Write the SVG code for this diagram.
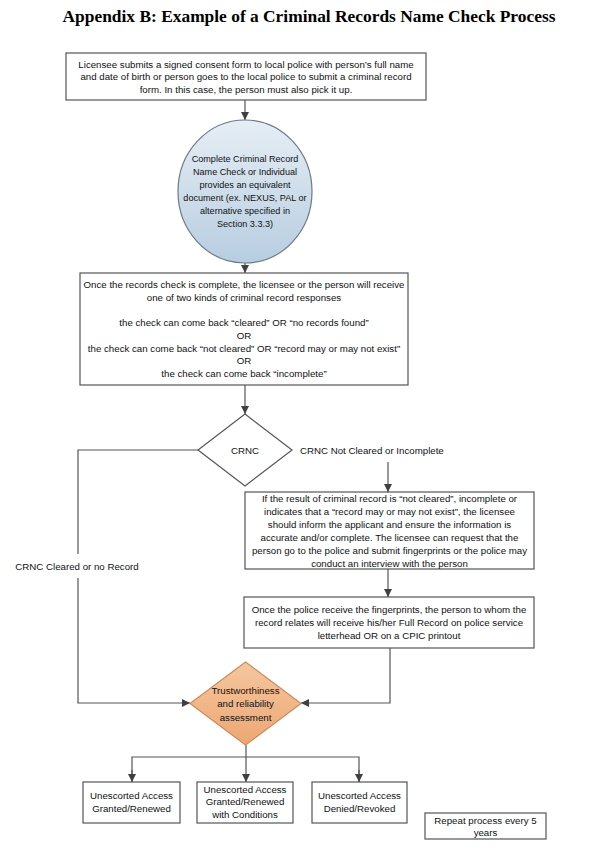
<svg xmlns="http://www.w3.org/2000/svg" width="613" height="867" viewBox="0 0 613 867">
<defs>
<linearGradient id="gBlue" x1="0" y1="0" x2="0" y2="1">
<stop offset="0" stop-color="#e6eef5"/>
<stop offset="1" stop-color="#b7cde0"/>
</linearGradient>
<linearGradient id="gOrange" x1="0" y1="0" x2="0" y2="1">
<stop offset="0" stop-color="#f5c7a0"/>
<stop offset="1" stop-color="#eda772"/>
</linearGradient>
<marker id="ah" viewBox="0 0 10 10" refX="10" refY="5" markerWidth="8" markerHeight="8" markerUnits="userSpaceOnUse" orient="auto">
<path d="M0,0 L10,5 L0,10 z" fill="#404040"/>
</marker>
<style>
.box{fill:#ffffff;stroke:#555555;stroke-width:1.2}
.t{font-family:"Liberation Sans",Arial,sans-serif;font-size:9.7px;fill:#111111;text-anchor:middle}
.tc{font-family:"Liberation Sans",Arial,sans-serif;font-size:9.1px;fill:#111111;text-anchor:middle}
.l{font-family:"Liberation Sans",Arial,sans-serif;font-size:9.7px;fill:#111111}
.c{fill:none;stroke:#555555;stroke-width:1.2}
.title{font-family:"Liberation Serif","Times New Roman",serif;font-size:17.4px;font-weight:bold;fill:#000000;text-anchor:middle}
</style>
</defs>
<rect width="613" height="867" fill="#ffffff"/>
<text class="title" x="309" y="22">Appendix B: Example of a Criminal Records Name Check Process</text>

<g id="connectors">
<line class="c" x1="245" y1="100" x2="245" y2="120" marker-end="url(#ah)"/>
<line class="c" x1="245" y1="263" x2="245" y2="273" marker-end="url(#ah)"/>
<line class="c" x1="245" y1="385" x2="245" y2="414" marker-end="url(#ah)"/>
<polyline class="c" points="198,450 78,450 78,554"/>
<polyline class="c" points="78,578 78,703 190,703" marker-end="url(#ah)"/>
<line class="c" x1="388" y1="462" x2="388" y2="492" marker-end="url(#ah)"/>
<line class="c" x1="388" y1="569" x2="388" y2="597" marker-end="url(#ah)"/>
<polyline class="c" points="390,648 390,703 301,703" marker-end="url(#ah)"/>
<line class="c" x1="246" y1="745" x2="246" y2="782" marker-end="url(#ah)"/>
<polyline class="c" points="132,782 132,757 359,757 359,782"/>
<line class="c" x1="132" y1="770" x2="132" y2="782" marker-end="url(#ah)"/>
<line class="c" x1="359" y1="770" x2="359" y2="782" marker-end="url(#ah)"/>
<text class="l" x="300" y="453.5">CRNC Not Cleared or Incomplete</text>
<text class="t" x="77" y="569.5">CRNC Cleared or no Record</text>
</g>

<g id="n1">
<rect class="box" x="66" y="53" width="360" height="47"/>
<text class="t" x="246" y="67.5">Licensee submits a signed consent form to local police with person’s full name</text>
<text class="t" x="246" y="80">and date of birth or person goes to the local police to submit a criminal record</text>
<text class="t" x="246" y="92.5">form. In this case, the person must also pick it up.</text>
</g>

<g id="n2">
<ellipse cx="245" cy="191.5" rx="67" ry="71.5" fill="url(#gBlue)" stroke="#6a7a88" stroke-width="1.2"/>
<text class="tc" x="245" y="162">Complete Criminal Record</text>
<text class="tc" x="245" y="175">Name Check or Individual</text>
<text class="tc" x="245" y="188">provides an equivalent</text>
<text class="tc" x="245" y="201">document (ex. NEXUS, PAL or</text>
<text class="tc" x="245" y="214">alternative specified in</text>
<text class="tc" x="245" y="227">Section 3.3.3)</text>
</g>

<g id="n3">
<rect class="box" x="80" y="273" width="328" height="112"/>
<text class="t" x="244" y="288">Once the records check is complete, the licensee or the person will receive</text>
<text class="t" x="244" y="300.7">one of two kinds of criminal record responses</text>
<text class="t" x="244" y="326.1">the check can come back “cleared” OR “no records found”</text>
<text class="t" x="244" y="338.8">OR</text>
<text class="t" x="244" y="351.5">the check can come back “not cleared” OR “record may or may not exist”</text>
<text class="t" x="244" y="364.2">OR</text>
<text class="t" x="244" y="376.9">the check can come back “incomplete”</text>
</g>

<g id="n4">
<polygon points="245,414 292,450 245,486 198,450" fill="#ffffff" stroke="#555555" stroke-width="1.2"/>
<text class="t" x="245" y="453.5">CRNC</text>
</g>

<g id="n5">
<rect class="box" x="245" y="492" width="289" height="77"/>
<text class="t" x="389.5" y="501.5">If the result of criminal record is “not cleared”, incomplete or</text>
<text class="t" x="389.5" y="514.5">indicates that a “record may or may not exist”, the licensee</text>
<text class="t" x="389.5" y="527.5">should inform the applicant and ensure the information is</text>
<text class="t" x="389.5" y="540.5">accurate and/or complete. The licensee can request that the</text>
<text class="t" x="389.5" y="553.5">person go to the police and submit fingerprints or the police may</text>
<text class="t" x="389.5" y="566.5">conduct an interview with the person</text>
</g>

<g id="n6">
<rect class="box" x="244" y="597" width="290" height="51"/>
<text class="t" x="389" y="613">Once the police receive the fingerprints, the person to whom the</text>
<text class="t" x="389" y="626">record relates will receive his/her Full Record on police service</text>
<text class="t" x="389" y="639">letterhead OR on a CPIC printout</text>
</g>

<g id="n7">
<polygon points="245.5,662 301,703.5 245.5,745 190,703.5" fill="url(#gOrange)" stroke="#c98c60" stroke-width="1.2"/>
<text class="t" x="245.5" y="693.5">Trustworthiness</text>
<text class="t" x="245.5" y="707">and reliability</text>
<text class="t" x="245.5" y="720.5">assessment</text>
</g>

<g id="n8">
<rect class="box" x="83" y="782" width="97" height="41"/>
<text class="t" x="131.5" y="798.5">Unescorted Access</text>
<text class="t" x="131.5" y="811.5">Granted/Renewed</text>
</g>

<g id="n9">
<rect class="box" x="197" y="782" width="96" height="41"/>
<text class="t" x="245" y="792.5">Unescorted Access</text>
<text class="t" x="245" y="805">Granted/Renewed</text>
<text class="t" x="245" y="817.5">with Conditions</text>
</g>

<g id="n10">
<rect class="box" x="312" y="782" width="95" height="41"/>
<text class="t" x="359.5" y="798.5">Unescorted Access</text>
<text class="t" x="359.5" y="811.5">Denied/Revoked</text>
</g>

<g id="n11">
<rect class="box" x="425" y="813" width="121" height="26"/>
<text class="t" x="485.5" y="823.5">Repeat process every 5</text>
<text class="t" x="485.5" y="835.5">years</text>
</g>
</svg>
